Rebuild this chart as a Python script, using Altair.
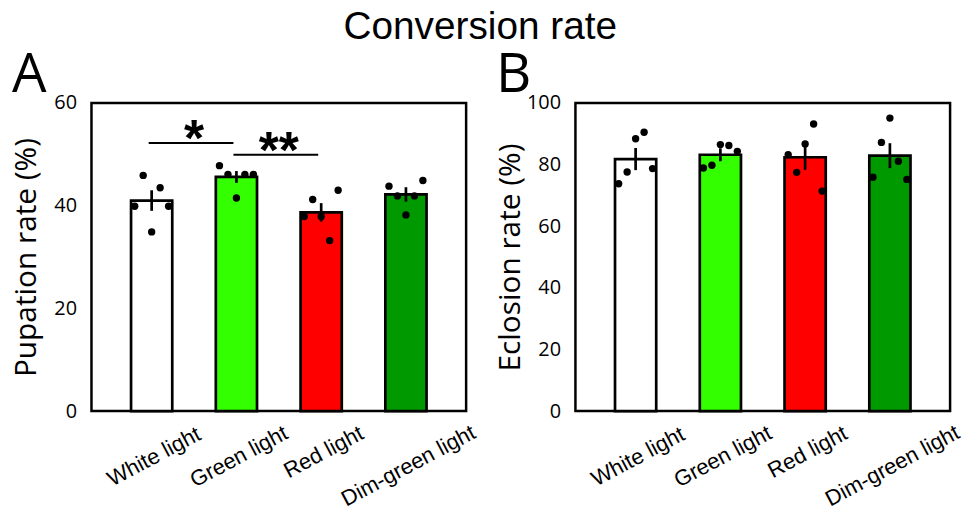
import json
import altair as alt
import pandas as pd

# ---------------- data ----------------
categories = ["White light", "Green light", "Red light", "Dim-green light"]
bar_colors = ["#FFFFFF", "#33FF00", "#FF0000", "#009900"]

# Panel A: pupation rate (%)
pupation_mean = [41.0, 45.6, 38.7, 42.2]
pupation_sem = [2.0, 1.15, 1.8, 1.4]
pupation_white = [45.9, 43.5, 39.9, 39.9, 34.9]
pupation_green = [47.8, 46.1, 46.1, 46.1, 41.5]
pupation_red = [41.2, 43.0, 37.9, 37.9, 33.2]
pupation_dimgreen = [43.8, 44.9, 41.9, 41.9, 38.2]
# swarm slot (order of the dot beside the bar centre)
pupation_slots = [[-1, 1, -2, 2, 0], [-2, -1, 1, 2, 0], [-1, 2, -2, 0, 1], [-2, 2, -1, 1, 0]]

# Panel B: eclosion rate (%)
eclosion_mean = [81.8, 83.2, 82.4, 82.9]
eclosion_sem = [3.6, 2.1, 4.1, 4.05]
eclosion_white = [88.4, 90.5, 77.6, 78.7, 73.8]
eclosion_green = [86.5, 86.2, 84.3, 78.9, 79.8]
eclosion_red = [93.2, 86.7, 83.2, 77.5, 71.4]
eclosion_dimgreen = [95.1, 87.2, 81.1, 75.9, 75.2]
eclosion_slots = [[0, 1, -1, 2, -2], [0, 1, 2, -2, -1], [1, 0, -2, -1, 2], [0, -1, 1, -2, 2]]

# significance brackets (panel A)
sig_from = ["White light", "Green light"]
sig_to = ["Green light", "Red light"]
sig_level = [52.2, 49.9]
sig_label = ["*", "**"]

# ---------------- helpers ----------------
NAMES = json.dumps(categories)
AXIS_FONT = "Open Sans"
XLAB_FONT = "Liberation Sans"

x_scale = alt.Scale(domain=[-0.71, 3.71], nice=False, zero=False)


def panel(means, sems, groups, slots, ymax, yticks, ytitle, letter, sig=None):
    bars = pd.DataFrame({
        "cat": categories,
        "idx": list(range(len(categories))),
        "mean": means,
        "sem": sems,
    })
    rows = []
    for i, (cat, vals, sl) in enumerate(zip(categories, groups, slots)):
        for v, s in zip(vals, sl):
            rows.append({"cat": cat, "idx": i, "value": v, "slot": s})
    pts = pd.DataFrame(rows)

    y_scale = alt.Scale(domain=[0, ymax], nice=False, zero=True)
    x_axis = alt.Axis(
        values=[0, 1, 2, 3], labelExpr=f"{NAMES}[datum.value]", title=None,
        ticks=False, domain=False, grid=False, labelAngle=-28, labelAlign="center",
        labelBaseline="middle", labelFont=XLAB_FONT, labelFontSize=22, labelColor="black",
        labelPadding=alt.ExprRef(expr=f"20 + 2.3*length({NAMES}[datum.value])"),
        labelOffset=2, labelOverlap=False, labelFlush=False,
    )
    y_axis = alt.Axis(
        values=yticks, title=ytitle, ticks=False, domain=False, grid=False,
        labelFont=AXIS_FONT, labelFontSize=20, labelColor="black", labelPadding=15,
        titleFont=AXIS_FONT, titleFontSize=30, titleFontWeight="normal", titleColor="black",
        titleAngle=270, titleX=-56, titleY=155, titleAlign="center", titleBaseline="alphabetic",
    )

    bar_layer = alt.Chart(bars).transform_calculate(
        xl="datum.idx - 0.243", xr="datum.idx + 0.243"
    ).mark_rect(stroke="black", strokeWidth=2.7).encode(
        x=alt.X("xl:Q", scale=x_scale, axis=x_axis),
        x2="xr:Q",
        y=alt.Y("mean:Q", scale=y_scale, axis=y_axis),
        y2=alt.datum(0),
        color=alt.Color("cat:N", scale=alt.Scale(domain=categories, range=bar_colors), legend=None),
    )
    err_layer = alt.Chart(bars).transform_calculate(
        lo="datum.mean - datum.sem", hi="datum.mean + datum.sem"
    ).mark_rule(color="black", strokeWidth=2.7).encode(
        x=alt.X("idx:Q"),
        y=alt.Y("lo:Q"),
        y2="hi:Q",
    )
    pt_layer = alt.Chart(pts).transform_calculate(
        xp="datum.idx + datum.slot*0.1"
    ).mark_circle(size=55, color="black", opacity=1).encode(
        x=alt.X("xp:Q"),
        y=alt.Y("value:Q"),
    )
    layers = [bar_layer, err_layer, pt_layer]

    if sig is not None:
        sdf = pd.DataFrame({
            "a": [categories.index(c) for c in sig[0]],
            "b": [categories.index(c) for c in sig[1]],
            "level": sig[2],
            "label": sig[3],
        })
        rule = alt.Chart(sdf).mark_rule(color="black", strokeWidth=2, xOffset=-3, x2Offset=-3).encode(
            x=alt.X("a:Q"), x2="b:Q", y=alt.Y("level:Q")
        )
        txt = alt.Chart(sdf).transform_calculate(mid="(datum.a + datum.b)/2").mark_text(
            font=XLAB_FONT, fontSize=52, fontWeight="bold", baseline="alphabetic",
            align="center", dy=13, color="black"
        ).encode(x=alt.X("mid:Q"), y=alt.Y("level:Q"), text="label:N")
        layers += [rule, txt]

    return alt.layer(*layers).properties(
        width=377, height=310,
        title=alt.TitleParams(
            text=letter, anchor="start", frame="group", dx=-80, offset=-54,
            font=AXIS_FONT, fontSize=55, fontWeight="normal", baseline="alphabetic", color="black",
        ),
    )


pa = panel(pupation_mean, pupation_sem,
           [pupation_white, pupation_green, pupation_red, pupation_dimgreen], pupation_slots,
           60, [0, 20, 40, 60], "Pupation rate (%)", "A",
           sig=(sig_from, sig_to, sig_level, sig_label))
pb = panel(eclosion_mean, eclosion_sem,
           [eclosion_white, eclosion_green, eclosion_red, eclosion_dimgreen], eclosion_slots,
           100, [0, 20, 40, 60, 80, 100], "Eclosion rate (%)", "B")

chart = alt.hconcat(pa, pb, spacing=14).properties(
    title=alt.TitleParams(
        text="Conversion rate", font=XLAB_FONT, fontSize=39, fontWeight="normal",
        anchor="middle", baseline="alphabetic", offset=-31, dx=-7, color="black",
    ),
    padding={"left": 2, "top": -2, "right": -1, "bottom": 5},
).configure(
    background="white",
    view=alt.ViewConfig(stroke="black", strokeWidth=2.5),
)

chart.save("out.html", embed_options={"renderer": "svg", "actions": False})
